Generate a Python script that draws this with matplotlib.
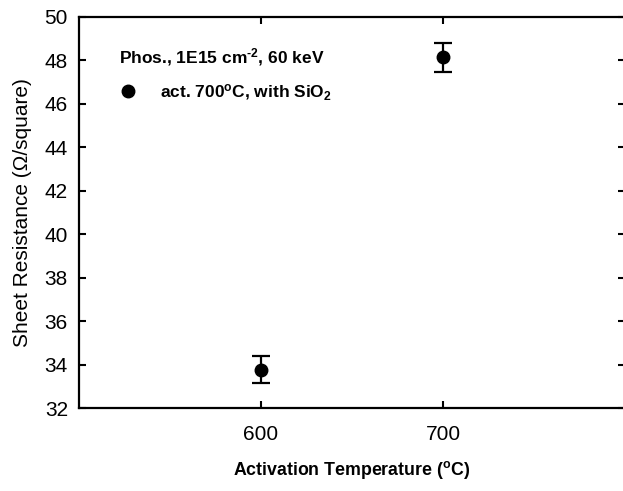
import numpy as np
import matplotlib
matplotlib.use("Agg")
import matplotlib.pyplot as plt

plt.rcParams['font.family'] = ['Liberation Sans', 'DejaVu Sans']
plt.rcParams['mathtext.fontset'] = 'custom'
plt.rcParams['mathtext.rm'] = 'Liberation Sans:bold'
plt.rcParams['mathtext.default'] = 'rm'

# data
temps = [600, 700]
sheet_res = [33.77, 48.15]
sheet_err = [0.62, 0.67]
xticks = [600, 700]
yticks = [32, 34, 36, 38, 40, 42, 44, 46, 48, 50]

W, H = 623, 491
fig = plt.figure(figsize=(W / 100, H / 100), dpi=100)
ax = fig.add_axes([79/W, 83/H, 546/W, 391/H])

ax.errorbar(temps, sheet_res, yerr=sheet_err, fmt='o', color='black',
            markersize=9, elinewidth=1.6, capsize=6.5, capthick=1.6)

ax.set_xlim(500, 800)
ax.set_ylim(32, 50)
ax.set_xticks(xticks)
ax.set_yticks(yticks)
ax.tick_params(direction='in', length=5, width=1.5, labelsize=15,
               top=True, right=True)
ax.tick_params(axis='x', pad=12)
ax.tick_params(axis='y', pad=8)
for s in ax.spines.values():
    s.set_linewidth(1.6)

ax.set_xlabel(r'Activation Temperature ($^{o}$C)', fontsize=12.8,
              fontweight='bold', labelpad=11)
ax.set_ylabel('Sheet Resistance (Ω/square)', fontsize=15, labelpad=9)

# legend-like annotations, placed in figure pixels from the top-left
def fpos(x, y):
    return x / W, 1 - y / H

ax.text(*fpos(119, 57), r'Phos., 1E15 cm$^{\text{-2}}$, 60 keV',
        transform=fig.transFigure, fontsize=12.5, fontweight='bold',
        va='center')
ax.plot(*fpos(128, 91), 'o', color='black', markersize=9,
        transform=fig.transFigure, clip_on=False)
ax.text(*fpos(160, 93), r'act. 700$^{o}$C, with SiO$_{2}$',
        transform=fig.transFigure, fontsize=12.5, fontweight='bold',
        va='center')

fig.savefig('out.png', dpi=100)
